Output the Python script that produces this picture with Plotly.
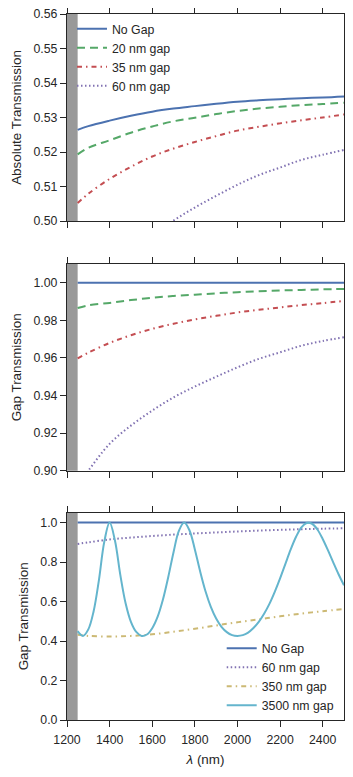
import plotly.graph_objects as go

# wavelengths (nm)
wl = [1250, 1300, 1400, 1500, 1600, 1700, 1800, 1900, 2000, 2100, 2200, 2300, 2400, 2500]
wl_fine = [1250, 1275, 1300, 1325, 1350, 1375, 1400, 1425, 1450, 1475, 1500, 1525, 1550, 1575,
           1600, 1625, 1650, 1675, 1700, 1725, 1750, 1775, 1800, 1825, 1850, 1875, 1900, 1925,
           1950, 1975, 2000, 2025, 2050, 2075, 2100, 2125, 2150, 2175, 2200, 2225, 2250, 2275,
           2300, 2325, 2350, 2375, 2400, 2425, 2450, 2475, 2500]

# absolute transmission (top panel)
abs_nogap = [0.5264, 0.5275, 0.5291, 0.5305, 0.5317, 0.5326, 0.5333, 0.5340, 0.5346, 0.5350, 0.5353, 0.5356, 0.5358, 0.5361]
abs_20 = [0.5193, 0.5212, 0.5234, 0.5256, 0.5274, 0.5289, 0.5299, 0.5310, 0.5319, 0.5326, 0.5331, 0.5336, 0.5339, 0.5343]
abs_35 = [0.5052, 0.5079, 0.5122, 0.5157, 0.5187, 0.5210, 0.5229, 0.5246, 0.5262, 0.5273, 0.5283, 0.5292, 0.5300, 0.5309]
abs_60 = [0.4695, 0.4748, 0.4838, 0.4902, 0.4955, 0.5001, 0.5039, 0.5073, 0.5105, 0.5133, 0.5155, 0.5177, 0.5192, 0.5206]

# gap transmission
gap_nogap = [1.0] * len(wl)
gap_20 = [0.9866, 0.9880, 0.9893, 0.9908, 0.9920, 0.9930, 0.9937, 0.9944, 0.9950, 0.9955, 0.9959, 0.9962, 0.9965, 0.9967]
gap_35 = [0.9598, 0.9628, 0.9680, 0.9721, 0.9755, 0.9782, 0.9805, 0.9824, 0.9842, 0.9856, 0.9869, 0.9881, 0.9892, 0.9903]
gap_60 = [0.892, 0.900, 0.9143, 0.924, 0.932, 0.939, 0.9448, 0.950, 0.955, 0.9595, 0.963, 0.9665, 0.969, 0.971]
gap_350 = [0.432, 0.426, 0.423, 0.426, 0.434, 0.447, 0.462, 0.479, 0.495, 0.510, 0.525, 0.539, 0.551, 0.562]
gap_3500 = [0.450, 0.426, 0.459, 0.551, 0.710, 0.903, 1.000, 0.909, 0.736, 0.591, 0.497, 0.446, 0.426, 0.433,
            0.465, 0.522, 0.609, 0.723, 0.850, 0.958, 1.000, 0.960, 0.864, 0.752, 0.652, 0.573, 0.514, 0.472,
            0.445, 0.430, 0.426, 0.430, 0.443, 0.466, 0.497, 0.538, 0.588, 0.649, 0.717, 0.791, 0.864, 0.928,
            0.976, 0.998, 0.994, 0.965, 0.917, 0.859, 0.797, 0.737, 0.682]

BLUE, GREEN, RED, PURPLE, YELLOW, CYAN = "#4C72B0", "#55A868", "#C44E52", "#8172B2", "#CCB974", "#64B5CD"
INK = "#262626"
FONT = "Liberation Sans, Arial, sans-serif"
FS_TICK = 12.3
FS_TITLE = 13.4

fig = go.Figure()

def add(x, y, name, color, dash, ax, legend=None):
    fig.add_trace(go.Scatter(
        x=x, y=y, name=name, mode="lines", line=dict(color=color, width=2, dash=dash, shape="spline"),
        xaxis="x" + ax, yaxis="y" + ax, showlegend=legend is not None, legend=legend or "legend"))

dashed = "8px,5px"
dashdot = "5px,4px,1.5px,4px"
dotted = "1.5px,2.5px"

add(wl, abs_nogap, "No Gap", BLUE, "solid", "", "legend")
add(wl, abs_20, "20 nm gap", GREEN, dashed, "", "legend")
add(wl, abs_35, "35 nm gap", RED, dashdot, "", "legend")
add(wl, abs_60, "60 nm gap", PURPLE, dotted, "", "legend")

add(wl, gap_nogap, "No Gap", BLUE, "solid", "2")
add(wl, gap_20, "20 nm gap", GREEN, dashed, "2")
add(wl, gap_35, "35 nm gap", RED, dashdot, "2")
add(wl, gap_60, "60 nm gap", PURPLE, dotted, "2")

add(wl, gap_nogap, "No Gap", BLUE, "solid", "3", "legend2")
add(wl, gap_60, "60 nm gap", PURPLE, dotted, "3", "legend2")
add(wl, gap_350, "350 nm gap", YELLOW, dashdot, "3", "legend2")
add(wl_fine, gap_3500, "3500 nm gap", CYAN, "solid", "3", "legend2")

H = 777
def dom(top, bot):
    return [1 - bot / H, 1 - top / H]

axis_common = dict(showline=True, linecolor=INK, linewidth=1.25, mirror="ticks", ticks="outside",
                   ticklen=6, tickwidth=1.25, tickcolor=INK, showgrid=False, zeroline=False,
                   automargin=False, ticklabeloverflow="allow",
                   tickfont=dict(size=FS_TICK, color=INK, family=FONT))
xcommon = dict(axis_common, range=[1200, 2500], dtick=200, tick0=1200)
ytitle = dict(font=dict(size=FS_TITLE, color=INK), standoff=8)

fig.update_layout(
    width=353, height=777, plot_bgcolor="white", paper_bgcolor="white",
    margin=dict(l=59, r=17, t=0, b=0),
    font=dict(family=FONT, size=FS_TICK, color=INK),
    xaxis=dict(xcommon, anchor="y", showticklabels=False),
    yaxis=dict(axis_common, domain=dom(6, 213), range=[0.50, 0.56], dtick=0.01, tickformat=".2f",
               title=dict(ytitle, text="Absolute Transmission")),
    xaxis2=dict(xcommon, anchor="y2", showticklabels=False),
    yaxis2=dict(axis_common, domain=dom(256, 462.7), range=[0.90, 1.01], dtick=0.02, tick0=0.9,
                tickformat=".2f", title=dict(ytitle, text="Gap Transmission")),
    xaxis3=dict(xcommon, anchor="y3", ticklabelstandoff=2,
                title=dict(text="<i>λ</i> (nm)", font=dict(size=FS_TITLE, color=INK), standoff=8)),
    yaxis3=dict(axis_common, domain=dom(504.7, 712), range=[0, 1.05], dtick=0.2, tickformat=".1f",
                title=dict(ytitle, text="Gap Transmission")),
    legend=dict(x=0.018, y=0.9919, xanchor="left", yanchor="top", bgcolor="rgba(0,0,0,0)",
                font=dict(size=FS_TICK, color=INK)),
    legend2=dict(x=0.5585, y=0.1947, xanchor="left", yanchor="top", bgcolor="rgba(0,0,0,0)",
                 font=dict(size=FS_TICK, color=INK)),
)

# grey band below 1250 nm
for ax in ["", "2", "3"]:
    fig.add_shape(type="rect", xref="x" + ax, yref="y" + ax + " domain", x0=1200, x1=1250, y0=0, y1=1,
                  fillcolor="#999999", line=dict(width=0), layer="below")

fig.write_html("out.html")
